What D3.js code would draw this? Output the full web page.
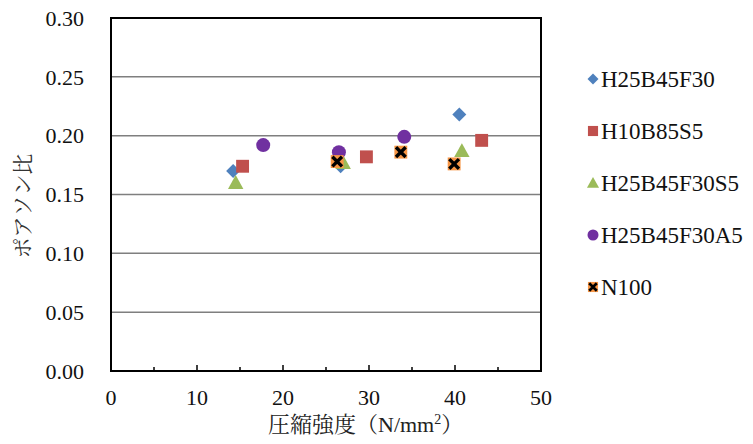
<!DOCTYPE html>
<html><head><meta charset="utf-8">
<script src="https://cdn.jsdelivr.net/npm/d3@7"></script>
<style>body{margin:0;background:#fff}svg{display:block}</style>
</head><body>
<script>
const seriesNames = ["H25B45F30","H10B85S5","H25B45F30S5","H25B45F30A5","N100"];
const xH25B45F30 = [14.2, 26.7, 40.5];
const yH25B45F30 = [0.170, 0.174, 0.218];
const xH10B85S5 = [15.3, 29.7, 43.1];
const yH10B85S5 = [0.174, 0.182, 0.196];
const xH25B45F30S5 = [14.5, 27.0, 40.8];
const yH25B45F30S5 = [0.160, 0.177, 0.187];
const xH25B45F30A5 = [17.7, 26.5, 34.1];
const yH25B45F30A5 = [0.192, 0.186, 0.199];
const xN100 = [26.3, 33.7, 39.9];
const yN100 = [0.178, 0.186, 0.176];
const xTicks = [0,10,20,30,40,50];
const yTicks = [0,0.05,0.10,0.15,0.20,0.25,0.30];
const xTitleMain = "圧縮強度（N/mm";
const xTitleSup = "2";
const xTitleEnd = "）";
const yTitle = "ポアソン比";

const colors = ["#4F81BD","#C0504D","#9BBB59","#7030A0","#F79646"];
const shapes = ["diamond","square","triangle","circle","xsquare"];
const series = [
  {name:seriesNames[0], xs:xH25B45F30, ys:yH25B45F30},
  {name:seriesNames[1], xs:xH10B85S5, ys:yH10B85S5},
  {name:seriesNames[2], xs:xH25B45F30S5, ys:yH25B45F30S5},
  {name:seriesNames[3], xs:xH25B45F30A5, ys:yH25B45F30A5},
  {name:seriesNames[4], xs:xN100, ys:yN100}
];

const SERIF='"Liberation Serif", "Noto Serif CJK JP", serif';

const W=753,H=444;
const L=111,R=541,T=18,B=371;
const svg=d3.select("body").append("svg").attr("width",W).attr("height",H)
  .style("font-family",SERIF);
const x=d3.scaleLinear().domain([0,50]).range([L,R]);
const y=d3.scaleLinear().domain([0,0.30]).range([B,T]);

// gridlines
svg.append("g").selectAll("line").data(yTicks.slice(1,-1)).join("line")
  .attr("x1",L).attr("x2",R).attr("y1",d=>y(d)).attr("y2",d=>y(d))
  .attr("stroke","#7f7f7f").attr("stroke-width",1.5);

// frame
svg.append("rect").attr("x",L).attr("y",T).attr("width",R-L).attr("height",B-T)
  .attr("fill","none").attr("stroke","#000").attr("stroke-width",2);

// x minor/major ticks inward
const xt=d3.range(0,51,5);
svg.append("g").selectAll("line").data(xt).join("line")
  .attr("x1",d=>x(d)).attr("x2",d=>x(d)).attr("y1",B).attr("y2",d=>d%10===0?B-6:B-4)
  .attr("stroke","#000").attr("stroke-width",1.5);

function serifText(sel,str){
  sel.append("tspan").style("font-family",SERIF).text(str);
}

// tick labels
svg.append("g").selectAll("text").data(xTicks).join("text")
  .attr("x",d=>x(d)).attr("y",405).attr("text-anchor","middle")
  .style("font-family",SERIF).style("font-size","22px").attr("fill","#111")
  .each(function(d){serifText(d3.select(this),String(d));});
svg.append("g").selectAll("text").data(yTicks).join("text")
  .attr("x",84).attr("y",d=>y(d)).attr("dy","0.35em").attr("text-anchor","end")
  .style("font-family",SERIF).style("font-size","22px").attr("fill","#111")
  .each(function(d){serifText(d3.select(this),d.toFixed(2));});

// titles
const xt2=svg.append("text").attr("x",268).attr("y",432)
  .style("font-family",SERIF).style("font-size","22px").attr("fill","#222");
xt2.append("tspan").text(xTitleMain);
xt2.append("tspan").attr("dy",-8).style("font-size","14px").text(xTitleSup);
xt2.append("tspan").attr("dy",8).text(xTitleEnd);
svg.append("text").attr("transform","translate(30,206) rotate(-90)")
  .attr("text-anchor","middle").style("font-family",SERIF).style("font-size","21px")
  .attr("fill","#333").text(yTitle);

function drawMarker(g,shape,color,s){
  if(shape==="diamond"){
    g.append("path").attr("d",`M0,${-s/2}L${s/2},0L0,${s/2}L${-s/2},0Z`).attr("fill",color);
  } else if(shape==="square"){
    const h=s*0.46;
    g.append("rect").attr("x",-h).attr("y",-h).attr("width",2*h).attr("height",2*h).attr("fill",color);
  } else if(shape==="triangle"){
    const h=s*0.55;
    g.append("path").attr("d",`M0,${-h}L${h},${h*0.8}L${-h},${h*0.8}Z`).attr("fill",color);
  } else if(shape==="circle"){
    g.append("circle").attr("r",s/2).attr("fill",color);
  } else {
    const h=s*0.46;
    g.append("rect").attr("x",-h).attr("y",-h).attr("width",2*h).attr("height",2*h).attr("fill",color);
    const k=h*0.75;
    g.append("path").attr("d",`M${-k},${-k}L${k},${k}M${k},${-k}L${-k},${k}`)
      .attr("stroke","#000").attr("stroke-width",s*0.24).attr("fill","none");
  }
}

series.forEach((sr,i)=>{
  const g=svg.append("g");
  sr.xs.forEach((v,j)=>{
    const m=g.append("g").attr("transform",`translate(${x(v)},${y(sr.ys[j])})`);
    drawMarker(m,shapes[i],colors[i],14);
  });
});

// legend
const leg=svg.append("g");
series.forEach((sr,i)=>{
  const ly=79+i*52;
  const m=leg.append("g").attr("transform",`translate(593,${ly})`);
  drawMarker(m,shapes[i],colors[i],11);
  const t=leg.append("text").attr("x",601).attr("y",ly).attr("dy","0.35em")
    .style("font-family",SERIF).style("font-size","23px").attr("fill","#111");
  serifText(t,sr.name);
});
</script>
</body></html>
